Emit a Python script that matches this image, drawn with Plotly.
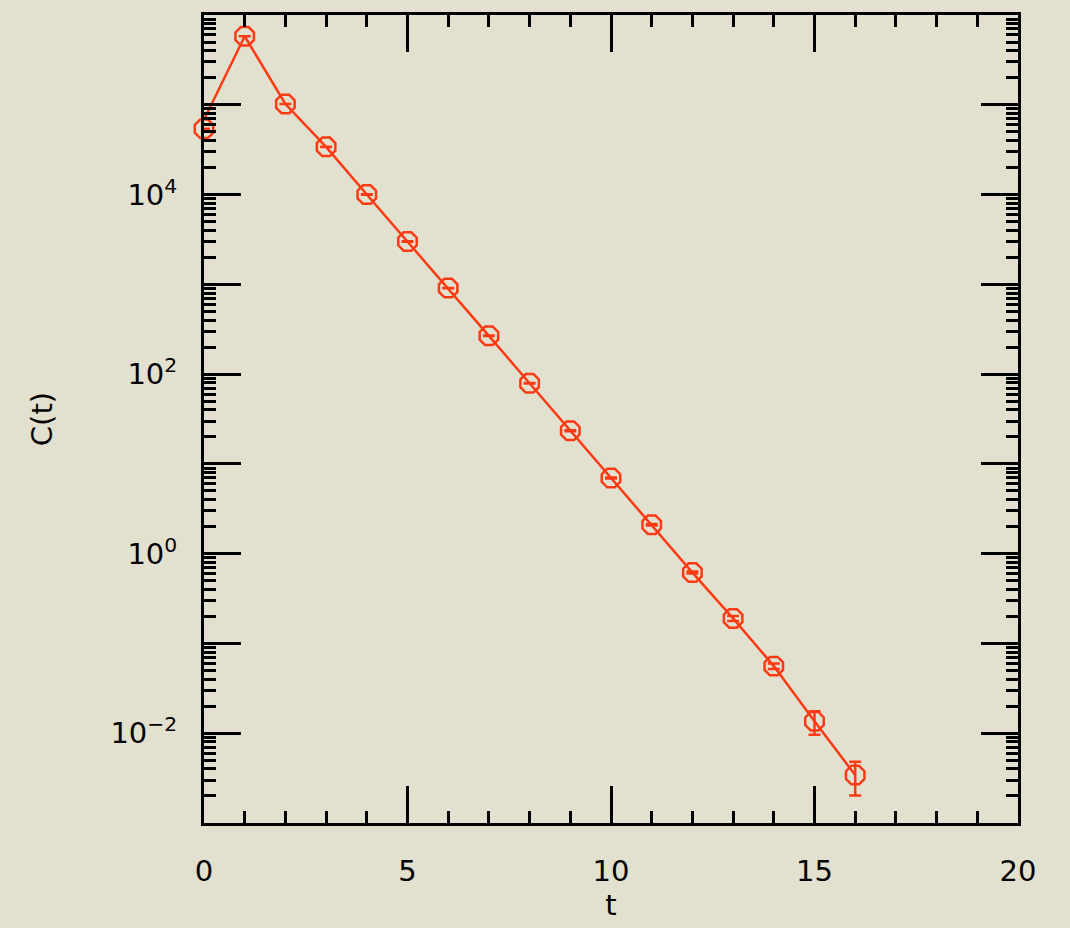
import plotly.graph_objects as go

t_vals = list(range(17))
c_vals = [5.4e4, 5.8e5, 1.02e5, 3.4e4, 1.0e4, 3.0e3, 908, 267, 79, 23.4, 6.96,
          2.1, 0.616, 0.19, 0.0559, 0.0136, 0.00342]
c_err = [100, 1000, 300, 150, 50, 15, 5, 2, 0.6, 0.3, 0.1,
         0.04, 0.015, 0.012, 0.004, 0.004, 0.0014]
fit_t = list(range(17))
fit_vals = [6.8e4, 5.8e5, 1.02e5, 3.4e4, 1.0e4, 3.0e3, 908, 267, 79, 23.4, 6.96,
            2.1, 0.616, 0.19, 0.0559, 0.0136, 0.00342]

x_ticks = [0, 5, 10, 15, 20]
x_minor = [i for i in range(21)]
decades = list(range(-3, 7))
y_tickvals = [10.0 ** k for k in decades]
y_ticktext = [("10<sup>" + str(k).replace("-", "−") + "</sup>") if k % 2 == 0 else "" for k in decades]
y_minor = [d * 10.0 ** k for k in range(-3, 6) for d in range(2, 10)]

RED = "#ff3a14"
BG = "#e2e1cf"
FONT = "DejaVu Sans"

fig = go.Figure()
fig.add_trace(go.Scatter(
    x=fit_t, y=fit_vals, mode="lines",
    line=dict(color=RED, width=2.5), cliponaxis=False, showlegend=False))
fig.add_trace(go.Scatter(
    x=t_vals, y=c_vals, mode="markers",
    marker=dict(symbol="octagon-open", size=20, color=RED, line=dict(width=2.5, color=RED)),
    error_y=dict(type="data", array=c_err, color=RED, thickness=2.5, width=6),
    cliponaxis=False, showlegend=False))

fig.update_layout(
    width=1070, height=928,
    paper_bgcolor=BG, plot_bgcolor=BG,
    margin=dict(l=204, r=52, t=14, b=102),
    font=dict(family=FONT, size=29, color="black"),
)
fig.update_xaxes(
    range=[0, 20], tickmode="array", tickvals=x_ticks, ticktext=[str(v) for v in x_ticks],
    ticks="inside", ticklen=37, tickwidth=2.5, tickcolor="black",
    showline=True, linecolor="black", linewidth=3, mirror="allticks",
    showgrid=False, zeroline=False,
    minor=dict(tickmode="array", tickvals=x_minor, ticks="inside", ticklen=12,
               tickwidth=2.5, tickcolor="black", showgrid=False),
    ticklabelstandoff=20,
    title=dict(text="t", standoff=8, font=dict(size=29)),
)
fig.update_yaxes(
    type="log", range=[-3, 6], tickmode="array", tickvals=y_tickvals, ticktext=y_ticktext,
    ticks="inside", ticklen=37, tickwidth=2.5, tickcolor="black",
    showline=True, linecolor="black", linewidth=3, mirror="allticks",
    showgrid=False, zeroline=False,
    minor=dict(tickmode="array", tickvals=y_minor, ticks="inside", ticklen=12,
               tickwidth=2.5, tickcolor="black", showgrid=False),
    ticklabelstandoff=18,
    title=dict(text="C(t)", standoff=50, font=dict(size=29)),
)

fig.write_html(
    "out.html",
    config={"displayModeBar": False},
    post_script="document.body.style.margin='0';document.body.style.background='" + BG + "';",
)
